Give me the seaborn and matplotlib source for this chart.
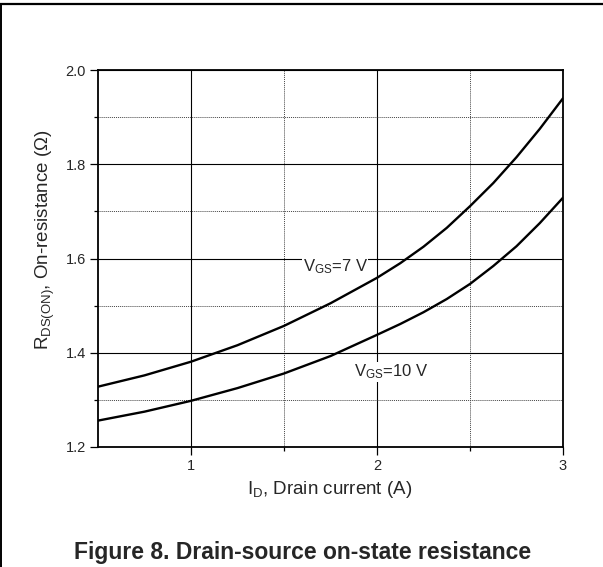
import pandas as pd
import matplotlib
matplotlib.use("Agg")
import matplotlib.pyplot as plt
import seaborn as sns
from matplotlib.lines import Line2D
from matplotlib.ticker import FixedLocator

# values
drain_current = [0.5, 0.75, 1.0, 1.25, 1.5, 1.75, 2.0, 2.125, 2.25, 2.375,
                 2.5, 2.625, 2.75, 2.875, 3.0]
rds_vgs7 = [1.328, 1.352, 1.381, 1.416, 1.457, 1.505, 1.559, 1.590, 1.625, 1.665,
            1.711, 1.760, 1.815, 1.875, 1.940]
rds_vgs10 = [1.256, 1.275, 1.298, 1.325, 1.356, 1.393, 1.438, 1.461, 1.486, 1.514,
             1.546, 1.584, 1.626, 1.675, 1.729]
x_major = [1, 2, 3]
x_minor = [1.5, 2.5]
y_major = [1.2, 1.4, 1.6, 1.8, 2.0]
y_minor = [1.3, 1.5, 1.7, 1.9]

df = pd.DataFrame({
    "I_D": drain_current * 2,
    "R": rds_vgs7 + rds_vgs10,
    "V_GS": ["7 V"] * len(drain_current) + ["10 V"] * len(drain_current),
})

sns.set_style("white")
plt.rcParams["font.family"] = ["Liberation Sans", "DejaVu Sans"]
plt.rcParams["mathtext.fontset"] = "custom"
plt.rcParams["mathtext.rm"] = "Liberation Sans"

W, H = 603, 567
fig = plt.figure(figsize=(W / 100, H / 100), dpi=100)
ax = fig.add_axes([98 / W, 1 - 447 / H, 465 / W, 377 / H])

sns.lineplot(data=df, x="I_D", y="R", hue="V_GS", palette=["black", "black"],
             legend=False, lw=1.7, ax=ax, zorder=3)

ax.set_xlim(0.5, 3)
ax.set_ylim(1.2, 2.0)
ax.xaxis.set_major_locator(FixedLocator(x_major))
ax.xaxis.set_minor_locator(FixedLocator(x_minor))
ax.yaxis.set_major_locator(FixedLocator(y_major))
ax.yaxis.set_minor_locator(FixedLocator(y_minor))
ax.set_xticklabels([str(v) for v in x_major])
ax.set_yticklabels([f"{v:.1f}" for v in y_major])
ax.set_xlabel("")
ax.set_ylabel("")

ax.grid(which="major", color="black", lw=0.8)
ax.grid(which="minor", color="#444444", lw=0.7, ls=(0, (1, 1)))
ax.set_axisbelow(True)

ax.tick_params(which="both", direction="out", bottom=True, left=True,
               top=False, right=False, color="black", width=0.9)
ax.tick_params(which="major", length=5.8, labelsize=10.5, pad=3)
ax.tick_params(which="minor", length=3)
for s in ax.spines.values():
    s.set_color("black")
    s.set_linewidth(1.3)

ax.text(1.60, 1.582, r"$\mathregular{V_{GS}}$=7 V", fontsize=12, va="center", ha="left",
        bbox=dict(fc="white", ec="none", pad=0.3), zorder=2)
ax.text(1.876, 1.359, r"$\mathregular{V_{GS}}$=10 V", fontsize=12, va="center", ha="left",
        bbox=dict(fc="white", ec="none", pad=0.3), zorder=2)

fig.text(45 / W, 1 - 240 / H, r"$\mathregular{R_{DS(ON)}}$, On-resistance (Ω)",
         rotation=90, ha="center", va="center", fontsize=13.5)
fig.text(330 / W, 1 - 489 / H, r"$\mathregular{I_D}$, Drain current (A)",
         ha="center", va="center", fontsize=13.5)
fig.text(303 / W, 1 - 552 / H, "Figure 8. Drain-source on-state resistance",
         ha="center", va="center", fontsize=16.5, fontweight="bold")

# frame of the figure box (only top and left edges are inside the crop)
fig.add_artist(Line2D([0, 1], [1 - 3.7 / H, 1 - 3.7 / H], color="black", lw=1.6,
                      transform=fig.transFigure))
fig.add_artist(Line2D([0.9 / W, 0.9 / W], [0, 1 - 3.7 / H], color="black", lw=1.4,
                      transform=fig.transFigure))

fig.savefig("out.png", dpi=100)
